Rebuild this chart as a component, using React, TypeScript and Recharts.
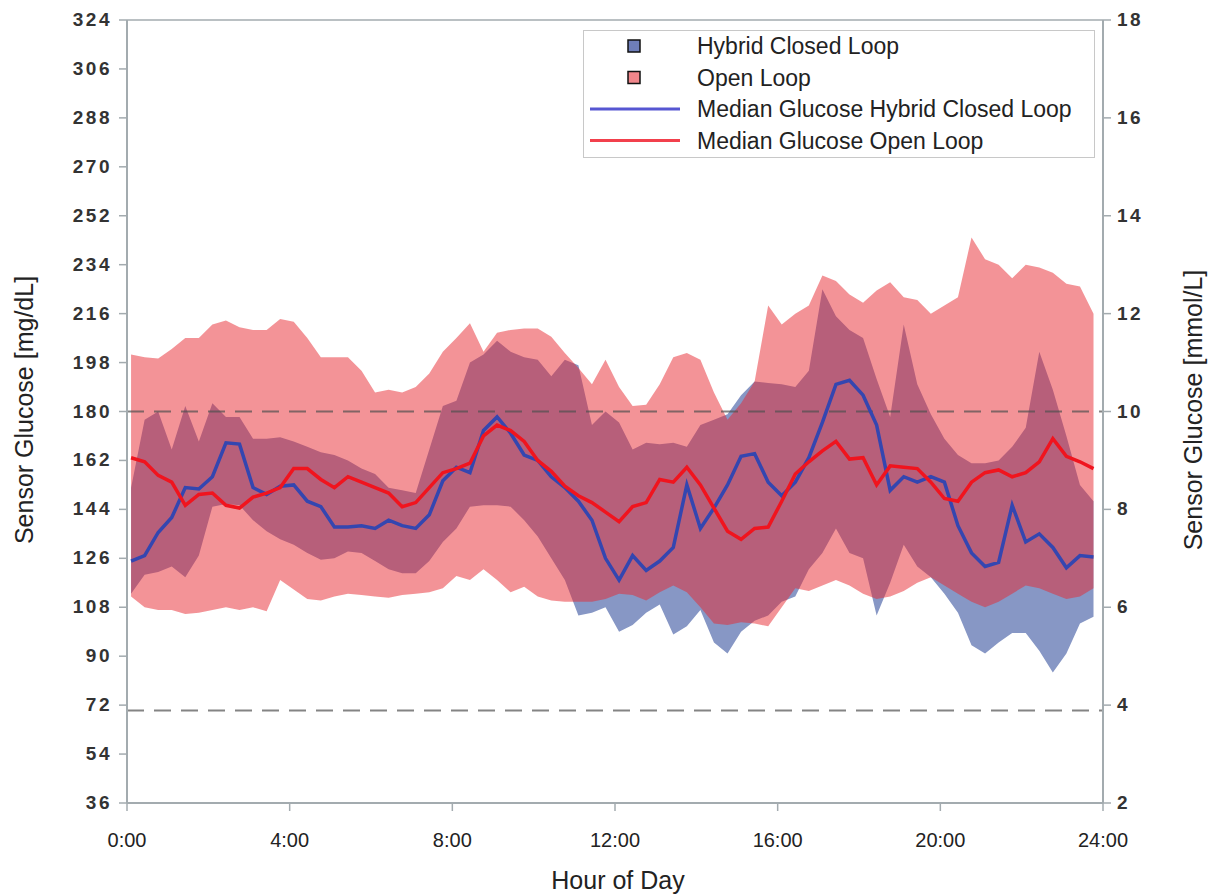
import { ComposedChart, Area, Line, XAxis, YAxis, ReferenceLine, Legend, Label } from 'recharts';

// minutes after midnight, one sample every 20 min
const MINUTES = [
  6, 26, 46, 66, 86, 106, 126, 146, 166, 186, 206, 226, 246, 266, 286, 306, 326, 346,
  366, 386, 406, 426, 446, 466, 486, 506, 526, 546, 566, 586, 606, 626, 646, 666, 686, 706,
  726, 746, 766, 786, 806, 826, 846, 866, 886, 906, 926, 946, 966, 986, 1006, 1026, 1046, 1066,
  1086, 1106, 1126, 1146, 1166, 1186, 1206, 1226, 1246, 1266, 1286, 1306, 1326, 1346, 1366, 1386, 1406, 1426,
];

const HCL_LOW = [
  113, 120, 121, 123, 119, 127, 145, 146, 145.5, 140, 136, 133, 131, 128, 125.5, 126, 128.5, 128,
  125, 122, 120.5, 120.5, 125, 132, 137, 145, 145.5, 145.5, 145, 140, 134, 126, 118, 105, 106, 108,
  99, 101.5, 106, 109, 98, 101, 107, 95, 91, 99, 103, 105, 110, 112, 122, 128, 137, 128,
  126, 105, 117, 131, 123, 119, 113, 106, 94, 91, 95, 98.5, 98.5, 92, 84, 91, 102, 104.5,
];
const HCL_HIGH = [
  152, 177, 180, 166, 182, 169, 183, 178, 178, 170, 170, 170.5, 169, 167, 165, 164, 162, 159,
  157, 152, 151, 150, 166, 182, 184, 198, 201, 206, 202, 200, 199, 193, 199, 197, 175, 180,
  176, 166, 168.5, 168, 168.5, 167, 175, 177, 179, 186, 191, 190.5, 190, 189, 195, 225, 215, 210,
  207, 192, 178, 212, 190, 179, 170, 164, 161, 161, 162, 167, 174, 202, 188, 171, 153, 147,
];
const OL_LOW = [
  112, 108, 107, 107, 105.5, 106, 107, 108, 107, 108, 106.5, 118, 114.5, 111, 110.5, 112, 113, 112.5,
  112, 111.5, 112.5, 113, 113.5, 115, 119.5, 118, 122, 118, 113.5, 115.5, 112, 110.5, 110, 110, 110, 111,
  113, 112.5, 110.5, 113.5, 116, 113.5, 108, 102, 101.5, 102.5, 102, 101, 108, 115, 114, 116, 118, 116,
  113, 111, 112, 114, 117, 119, 116, 113, 110, 108, 110, 113, 116, 115, 113, 111, 112, 115,
];
const OL_HIGH = [
  201, 200, 199.5, 203, 207, 207, 212, 213.5, 211, 210, 210, 214, 213, 207, 200, 200, 200, 195,
  187, 188, 187, 189, 194, 202, 207, 212.5, 202, 209, 210, 210.5, 210.5, 207.5, 201.5, 196, 190, 199,
  189, 182, 182.5, 190, 200, 201.5, 199, 187, 177, 183, 191, 219, 212, 216, 219, 230, 228, 223,
  220, 224.5, 227.5, 222, 221, 216, 219, 222, 244, 236, 234, 229, 234, 233, 231, 227, 226, 216,
];
const HCL_MEDIAN = [
  125, 127, 135.5, 141, 152, 151.5, 156, 168.5, 168, 152, 149.5, 152.5, 153, 147, 145, 137.5, 137.5, 138,
  137, 140, 138, 137, 142, 154.5, 159.5, 157.5, 173, 178, 172, 164, 162, 156, 152, 147, 140, 126,
  118, 127, 121.5, 125, 130, 153, 137, 144.5, 153, 163.5, 164.5, 154, 149, 154, 163, 176, 190, 191.5,
  186, 175, 151, 156, 154, 156, 154, 138, 128, 123, 124.5, 145.5, 132, 135, 130, 122.5, 127, 126.5,
];
const OL_MEDIAN = [
  163, 161.5, 156.5, 154, 145.5, 149.5, 150, 145.5, 144.5, 148.5, 150, 152, 159, 159, 155, 152, 156, 154,
  152, 150, 145, 146.5, 152, 157.5, 159, 161, 171, 175, 173, 169, 162, 158, 152.5, 149, 146.5, 143,
  139.5, 145, 146.5, 155, 154, 159.5, 153, 144.5, 136, 133, 137, 137.5, 147, 157, 161.5, 165.5, 169, 162.5,
  163, 153, 160, 159.5, 159, 154, 148, 147, 154, 157.5, 158.5, 156, 157.5, 161.5, 170, 163.5, 161.5, 159,
];

const X_TICKS = [0, 240, 480, 720, 960, 1200, 1440];
const MGDL_TICKS = [36, 54, 72, 90, 108, 126, 144, 162, 180, 198, 216, 234, 252, 270, 288, 306, 324];
const MMOL_TICKS = [2, 4, 6, 8, 10, 12, 14, 16, 18];
const TARGET_LINES = [70, 180];
const MGDL_PER_MMOL = 18;

const data = MINUTES.map((m, i) => ({
  minute: m,
  hcl: [HCL_LOW[i], HCL_HIGH[i]],
  ol: [OL_LOW[i], OL_HIGH[i]],
  hclMedian: HCL_MEDIAN[i],
  olMedian: OL_MEDIAN[i],
  olMedianMmol: OL_MEDIAN[i] / MGDL_PER_MMOL,
}));

const AXIS = '#A3ABAF';
const FONT = "'Liberation Sans', Arial, sans-serif";

const LeftTick = ({ x, y, payload }: any) => (
  <text x={x} y={y} dy={6} textAnchor="end" fontFamily={FONT} fontSize={19} fontWeight="bold" letterSpacing={2.5} fill="#333">
    {payload.value}
  </text>
);

const RightTick = ({ x, y, payload }: any) => (
  <text x={x} y={y} dy={6} textAnchor="start" fontFamily={FONT} fontSize={19} fontWeight="bold" letterSpacing={2.5} fill="#333">
    {payload.value}
  </text>
);

const BottomTick = ({ x, y, payload }: any) => (
  <text x={x} y={y} dy="0.71em" textAnchor="middle" fontFamily={FONT} fontSize={20} fill="#222">
    {`${payload.value / 60}:00`}
  </text>
);

const title = (text: string, x: number, y: number, angle = 0) => () => (
  <text
    x={x}
    y={y}
    textAnchor="middle"
    dominantBaseline="central"
    transform={angle ? `rotate(${angle} ${x} ${y})` : undefined}
    fontFamily={FONT}
    fontSize={25}
    fill="#222"
  >
    {text}
  </text>
);

const LEGEND_ROWS = [
  { label: 'Hybrid Closed Loop', kind: 'box', color: '#6E7EB9' },
  { label: 'Open Loop', kind: 'box', color: '#F0868B' },
  { label: 'Median Glucose Hybrid Closed Loop', kind: 'line', color: '#5656D2' },
  { label: 'Median Glucose Open Loop', kind: 'line', color: '#F2404C' },
];

const renderLegend = () => (
  <svg width={512} height={128} style={{ display: 'block' }}>
    <rect x={0.5} y={0.5} width={511} height={127} fill="#fff" stroke="#C8C8C8" />
    {LEGEND_ROWS.map((r, i) => {
      const cy = 16 + i * 31.5;
      return (
        <g key={r.label}>
          {r.kind === 'box' ? (
            <rect x={45} y={cy - 6} width={12} height={12} fill={r.color} stroke="#111" strokeWidth={1.5} />
          ) : (
            <line x1={7} x2={97} y1={cy} y2={cy} stroke={r.color} strokeWidth={3} />
          )}
          <text x={114} y={cy} dominantBaseline="central" fontFamily={FONT} fontSize={23} fill="#222">
            {r.label}
          </text>
        </g>
      );
    })}
  </svg>
);

export default function App() {
  return (
    <div style={{ position: 'absolute', left: 0, top: 0, width: 1217, height: 896, background: '#fff' }}>
      <ComposedChart width={1217} height={896} data={data} margin={{ top: 20, right: 0, bottom: 0, left: 0 }}>
        <XAxis
          dataKey="minute"
          type="number"
          domain={[0, 1440]}
          ticks={X_TICKS}
          height={93}
          axisLine={{ stroke: AXIS, strokeWidth: 2 }}
          tickLine={{ stroke: AXIS, strokeWidth: 1.5 }}
          tickSize={8}
          tickMargin={22}
          tick={<BottomTick />}
          label={<Label content={title('Hour of Day', 618, 880)} />}
        />
        <YAxis
          yAxisId="left"
          type="number"
          domain={[36, 324]}
          ticks={MGDL_TICKS}
          width={127}
          axisLine={{ stroke: AXIS, strokeWidth: 2 }}
          tickLine={{ stroke: AXIS, strokeWidth: 1.5 }}
          tickSize={8}
          tickMargin={7}
          tick={<LeftTick />}
          label={<Label content={title('Sensor Glucose [mg/dL]', 24, 410, -90)} />}
        />
        <YAxis
          yAxisId="right"
          orientation="right"
          type="number"
          domain={[2, 18]}
          ticks={MMOL_TICKS}
          width={114}
          axisLine={{ stroke: AXIS, strokeWidth: 2 }}
          tickLine={{ stroke: AXIS, strokeWidth: 1.5 }}
          tickSize={8}
          tickMargin={6}
          tick={<RightTick />}
          label={<Label content={title('Sensor Glucose [mmol/L]', 1193, 410, -90)} />}
        />
        <Area
          yAxisId="left"
          type="linear"
          dataKey="hcl"
          stroke="none"
          fill="#8797C5"
          fillOpacity={1}
          isAnimationActive={false}
          legendType="none"
        />
        <Area
          yAxisId="left"
          type="linear"
          dataKey="ol"
          stroke="none"
          fill="#E8282F"
          fillOpacity={0.5}
          isAnimationActive={false}
          legendType="none"
        />
        <ReferenceLine yAxisId="left" y={324} stroke={AXIS} strokeWidth={1.5} />
        {TARGET_LINES.map((v) => (
          <ReferenceLine
            key={v}
            yAxisId="left"
            y={v}
            stroke="#505050"
            strokeOpacity={0.7}
            strokeWidth={2}
            strokeDasharray="17 10"
          />
        ))}
        {/* invisible twin of the open-loop median in mmol/L so the right axis gets its scale */}
        <Line
          yAxisId="right"
          type="linear"
          dataKey="olMedianMmol"
          stroke="none"
          dot={false}
          activeDot={false}
          legendType="none"
          isAnimationActive={false}
        />
        <Line
          yAxisId="left"
          type="linear"
          dataKey="hclMedian"
          stroke="#3446B0"
          strokeWidth={3.5}
          dot={false}
          isAnimationActive={false}
        />
        <Line
          yAxisId="left"
          type="linear"
          dataKey="olMedian"
          stroke="#F0141E"
          strokeWidth={3.5}
          dot={false}
          isAnimationActive={false}
        />
        <Legend
          layout="vertical"
          align="center"
          verticalAlign="middle"
          content={renderLegend}
          wrapperStyle={{ left: 583, top: 30, width: 512, height: 128 }}
        />
      </ComposedChart>
    </div>
  );
}
